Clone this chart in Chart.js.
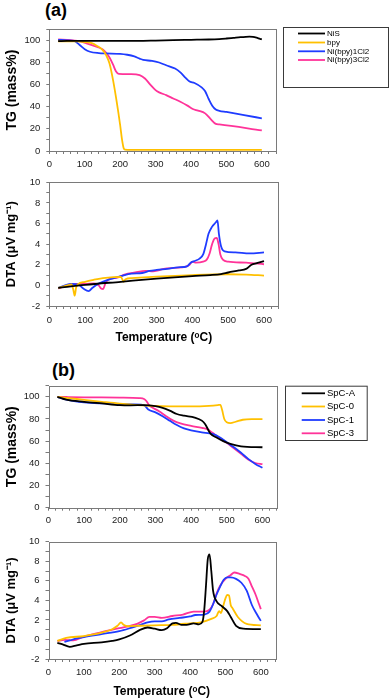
<!DOCTYPE html>
<html><head><meta charset="utf-8">
<script src="https://cdn.jsdelivr.net/npm/chart.js@4.4.1/dist/chart.umd.min.js"></script>
<style>
html,body{margin:0;padding:0;background:#fff;width:390px;height:699px;overflow:hidden;position:relative;font-family:'Liberation Sans',Arial,sans-serif}
canvas{position:absolute;left:0}
.lbl{position:absolute;font-weight:bold;font-size:18px;line-height:18px;color:#000;font-family:'Liberation Sans',Arial,sans-serif}
</style></head><body>
<div class="lbl" style="left:45px;top:1px">(a)</div>
<div class="lbl" style="left:52px;top:361px">(b)</div>
<canvas id="c1" width="390" height="170" style="top:0px"></canvas>
<canvas id="c2" width="390" height="180" style="top:170px"></canvas>
<canvas id="c3" width="390" height="180" style="top:350px"></canvas>
<canvas id="c4" width="390" height="169" style="top:530px"></canvas>
<script>
// ---------- DATA ----------
const legendA = ['NiS', 'bpy', 'Ni(bpy)1Cl2', 'Ni(bpy)3Cl2'];
const legendB = ['SpC-A', 'SpC-0', 'SpC-1', 'SpC-3'];
const xTitle = 'Temperature (ᵒC)';
const tgTitle = 'TG (mass%)';
const dtaTitle = 'DTA (μV mg⁻¹)';

// (a) TG
const aTG_NiS_T = [25,50,100,150,200,250,300,350,400,450,480,500,520,540,555,565,575,585,595,600];
const aTG_NiS_V = [99.3,99.5,99.5,99.5,99.5,99.5,99.8,100.2,100.5,100.8,101.2,101.7,102.3,102.9,103.2,103.3,103.1,102.4,101.4,101];
const aTG_bpy_T = [25,50,80,100,120,135,150,160,170,180,190,200,205,210,214,230,300,400,500,600];
const aTG_bpy_V = [99,99,99,98.5,97.5,95,91.5,87,79,64,45,23.5,11,2.5,1.2,1,1,1,1,1];
const aTG_N1_T = [25,50,70,85,100,115,140,160,200,220,240,255,265,290,310,330,355,370,385,395,410,430,440,450,460,470,480,500,550,600];
const aTG_N1_V = [100.5,100,99.5,96,92,89.7,88.5,88.2,87.8,87,85.5,83.5,82.3,81.5,80,77.5,74.5,71,66,63,61.5,57.5,54,47,41,37.5,36.3,35.3,32.5,29.5];
const aTG_N3_T = [25,60,80,105,135,150,160,170,180,188,196,230,255,270,285,300,310,330,350,370,390,405,420,440,455,470,480,600];
const aTG_N3_V = [100.8,100.3,99.5,97.3,94,92,89,84.5,78,72,69.7,69.5,68.5,65.5,60,55,53,50.5,47.5,44.5,41,38,36.5,34,29,24.5,24,18.7];

// (a) DTA
const aDTA_NiS_T = [25,100,200,300,400,450,480,500,530,550,565,580,600];
const aDTA_NiS_V = [-0.25,0.05,0.35,0.65,0.9,1.0,1.1,1.25,1.45,1.6,2.0,2.15,2.35];
const aDTA_bpy_T = [25,50,62,67,71,75,80,100,125,150,180,200,204,208,213,230,300,400,500,550,600];
const aDTA_bpy_V = [-0.25,0,0.1,-0.4,-1.0,-0.2,0.1,0.35,0.55,0.7,0.8,0.82,0.6,0.35,0.6,0.7,0.85,1.0,1.08,1.05,0.95];
const aDTA_N1_T = [25,60,80,95,110,120,140,170,200,230,260,280,300,330,360,385,395,405,420,430,438,445,455,465,470,474,480,490,520,560,600];
const aDTA_N1_V = [-0.25,0.15,0.1,-0.3,-0.55,-0.25,0.2,0.6,0.9,1.15,1.2,1.4,1.5,1.6,1.75,1.85,2.2,2.35,2.6,3.0,4.0,5.0,5.7,6.1,6.3,5.0,3.8,3.3,3.2,3.1,3.2];
const aDTA_N3_T = [25,50,70,100,125,138,145,150,158,170,190,210,240,270,290,305,320,350,380,392,400,410,430,440,448,455,462,468,473,478,485,500,550,600];
const aDTA_N3_V = [-0.3,0,0.15,0.15,0.2,0.0,-0.3,-0.35,0.3,0.65,0.75,1.05,1.25,1.4,1.35,1.45,1.6,1.7,1.8,2.0,2.3,2.2,2.3,2.5,3.1,4.0,4.55,4.6,4.0,3.0,2.5,2.3,2.2,2.05];

// (b) TG
const bTG_A_T = [25,50,100,150,200,230,270,300,320,340,360,380,410,430,440,450,455,470,490,510,540,600];
const bTG_A_V = [100,97.5,95.5,94,92.5,92.3,92.5,91.5,90,87.5,84.5,83,81.3,78.5,75,69,66.5,63.5,60,57.5,55.3,54.5];
const bTG_0_T = [25,50,100,150,200,250,300,350,400,450,475,482,487,493,500,510,525,545,570,600];
const bTG_0_V = [100,99,97.3,95.5,93.8,92.5,91.7,91.3,91.3,91.8,92.5,92.8,88,80,77,76.3,77.5,79.3,79.8,79.8];
const bTG_1_T = [25,50,100,150,200,260,270,280,300,320,340,360,380,400,430,460,480,500,520,540,560,580,600];
const bTG_1_V = [100,97.5,95,94,93.5,93,92,88.5,86,82.5,78.5,74.5,71.5,69.8,68,66.5,63.5,59,54.5,49.5,44,39.5,36];
const bTG_3_T = [25,50,100,200,255,268,275,282,290,310,330,350,370,400,430,445,460,480,500,520,540,560,580,600];
const bTG_3_V = [100,99.8,99.5,99.3,98.8,98,96,92.5,90.5,87,82.5,78.5,76,73.8,72,70.8,67.5,62.5,58.5,53.5,48.5,43.5,40.3,39.3];

// (b) DTA
const bDTA_A_T = [25,40,60,80,100,150,180,200,230,260,280,300,320,335,350,360,375,390,410,425,435,440,445,450,455,460,465,475,490,505,515,530,550,600];
const bDTA_A_V = [-0.35,-0.5,-0.75,-0.6,-0.45,-0.3,-0.15,0.0,0.4,1.0,1.22,1.1,0.95,1.15,1.65,1.7,1.5,1.5,1.65,1.55,1.8,3.0,5.5,8.2,8.7,7.0,5.0,3.9,3.4,2.9,2.3,1.4,1.1,1.05];
const bDTA_0_T = [25,50,100,150,180,195,205,212,225,260,300,350,400,430,460,475,482,487,492,500,505,510,515,520,535,560,600];
const bDTA_0_V = [-0.15,0.15,0.35,0.7,1.05,1.4,1.75,1.5,1.35,1.4,1.45,1.5,1.65,1.75,2.1,2.4,2.9,2.7,3.2,4.2,4.55,4.5,3.5,3.2,2.3,1.6,1.45];
const bDTA_1_T = [45,60,80,100,150,200,230,260,280,300,320,340,370,400,415,440,455,465,475,485,495,505,515,530,545,560,575,590,600];
const bDTA_1_V = [-0.25,-0.1,0.1,0.25,0.55,0.85,1.15,1.5,1.75,1.85,1.85,2.05,2.2,2.35,2.5,2.55,2.85,3.6,4.6,5.4,6.1,6.35,6.35,6.2,5.8,5.0,3.5,2.5,1.9];
const bDTA_3_T = [25,45,70,100,150,200,250,270,285,300,320,350,380,410,440,455,465,475,485,500,515,525,540,555,565,575,585,595,600];
const bDTA_3_V = [-0.15,-0.05,-0.1,0.3,0.75,1.15,1.6,1.95,2.3,2.3,2.2,2.4,2.55,2.85,2.85,3.05,3.6,4.7,5.5,6.2,6.6,6.85,6.7,6.5,6.2,5.4,4.6,3.6,3.1];

// ---------- STYLE ----------
const F = "'Liberation Sans', Arial, sans-serif";
const COLORS = ['#000000', '#FFC000', '#1F3CFF', '#FF3399'];
const pts = (T, V) => T.map((t, i) => ({x: t, y: V[i]}));

function ds(labels, pairs) {
  return pairs.map((p, i) => ({
    label: labels[i], data: pts(p[0], p[1]), borderColor: COLORS[i], backgroundColor: COLORS[i],
    borderWidth: 1.8, pointRadius: 0, fill: false, cubicInterpolationMode: 'monotone'
  }));
}

const boxPlugin = {
  id: 'boxFrame',
  afterDraw(chart) {
    const {ctx, chartArea: a} = chart;
    ctx.save();
    ctx.strokeStyle = '#7a7a7a'; ctx.lineWidth = 1;
    ctx.strokeRect(Math.round(a.left) + 0.5, Math.round(a.top) + 0.5, Math.round(a.right - a.left), Math.round(a.bottom - a.top));
    ctx.restore();
  }
};
const legendPlugin = {
  id: 'legendBox',
  afterDraw(chart, args, o) {
    if (!o || !o.rect) return;
    const ctx = chart.ctx; ctx.save();
    ctx.strokeStyle = '#3a3a3a'; ctx.lineWidth = 1;
    ctx.strokeRect(o.rect[0] + 0.5, o.rect[1] + 0.5, o.rect[2], o.rect[3]);
    ctx.font = o.font; ctx.textBaseline = 'middle'; ctx.textAlign = 'left'; ctx.fillStyle = '#000';
    chart.data.datasets.forEach((d, i) => {
      const y = o.rows[i];
      ctx.strokeStyle = d.borderColor; ctx.lineWidth = 1.8;
      ctx.beginPath(); ctx.moveTo(o.x1, y); ctx.lineTo(o.x2, y); ctx.stroke();
      ctx.fillText(d.label, o.tx, y);
    });
    ctx.restore();
  }
};

function xScale(h, showTitle, tpad, tickPad) {
  return {
    type: 'linear', min: 0, max: 640,
    ticks: {stepSize: 20, autoSkip: false, maxRotation: 0, padding: tickPad, color: '#222', font: {size: 9.5, family: F},
      callback: v => (v % 100 === 0 && v <= 600) ? String(v) : ''},
    grid: {drawOnChartArea: false, drawTicks: true, tickLength: 3, color: '#7a7a7a'},
    border: {display: false},
    title: showTitle ? {display: true, text: xTitle, color: '#000', font: {size: 12, weight: 'bold', family: F}, padding: {top: 0, bottom: tpad}} : {display: false},
    afterFit(s) { s.height = h; }
  };
}
function yScale(min, max, step, lblStep, maxLbl, title, tsize, w) {
  return {
    type: 'linear', min: min, max: max,
    ticks: {stepSize: step, autoSkip: false, padding: 6, color: '#222', font: {size: 9.5, family: F},
      callback: v => (Math.abs(v % lblStep) < 1e-9 && v <= maxLbl) ? String(v) : ''},
    grid: {drawOnChartArea: false, drawTicks: true, tickLength: 3, color: '#7a7a7a'},
    border: {display: false},
    title: {display: true, text: title, color: '#000', font: {size: tsize, weight: 'bold', family: F}, padding: {top: 4, bottom: 0}},
    afterFit(s) { s.width = w; }
  };
}

function make(id, datasets, pad, xs, ys, legendOpts) {
  new Chart(document.getElementById(id), {
    type: 'line',
    data: {datasets: datasets},
    options: {
      responsive: false, animation: false, events: [],
      layout: {padding: pad},
      scales: {x: xs, y: ys},
      plugins: {legend: {display: false}, tooltip: {enabled: false}, legendBox: legendOpts || {}}
    },
    plugins: [boxPlugin, legendPlugin]
  });
}

make('c1', ds(legendA, [[aTG_NiS_T, aTG_NiS_V], [aTG_bpy_T, aTG_bpy_V], [aTG_N1_T, aTG_N1_V], [aTG_N3_T, aTG_N3_V]]),
  {left: 0, top: 29.3, right: 114, bottom: 0},
  xScale(19, false, 0, 4.5), yScale(0, 110, 10, 20, 100, tgTitle, 14, 49.3),
  {rect: [283, 27, 105, 60], rows: [33.5, 42.5, 51.3, 60], x1: 298, x2: 325, tx: 327, font: '8px ' + F});

make('c2', ds(legendA, [[aDTA_NiS_T, aDTA_NiS_V], [aDTA_bpy_T, aDTA_bpy_V], [aDTA_N1_T, aDTA_N1_V], [aDTA_N3_T, aDTA_N3_V]]),
  {left: 0, top: 12.3, right: 111.7, bottom: 0},
  xScale(44, true, 4.8, 5.5), yScale(-2, 10, 1, 2, 10, dtaTitle, 13, 49.3));

make('c3', ds(legendB, [[bTG_A_T, bTG_A_V], [bTG_0_T, bTG_0_V], [bTG_1_T, bTG_1_V], [bTG_3_T, bTG_3_V]]),
  {left: 0, top: 35.7, right: 113.3, bottom: 0},
  xScale(22.3, false, 0, 4), yScale(0, 110, 10, 20, 100, tgTitle, 14, 48.5),
  {rect: [285, 35.7, 81.7, 54.3], rows: [43.3, 56.5, 70, 83.3], x1: 301.7, x2: 325, tx: 327, font: '9.5px ' + F});

make('c4', ds(legendB, [[bDTA_A_T, bDTA_A_V], [bDTA_0_T, bDTA_0_V], [bDTA_1_T, bDTA_1_V], [bDTA_3_T, bDTA_3_V]]),
  {left: 0, top: 7.3, right: 115, bottom: 0},
  xScale(40, true, 0, 4.3), yScale(-2, 10, 1, 2, 10, dtaTitle, 13, 48.5));
</script>
</body></html>
